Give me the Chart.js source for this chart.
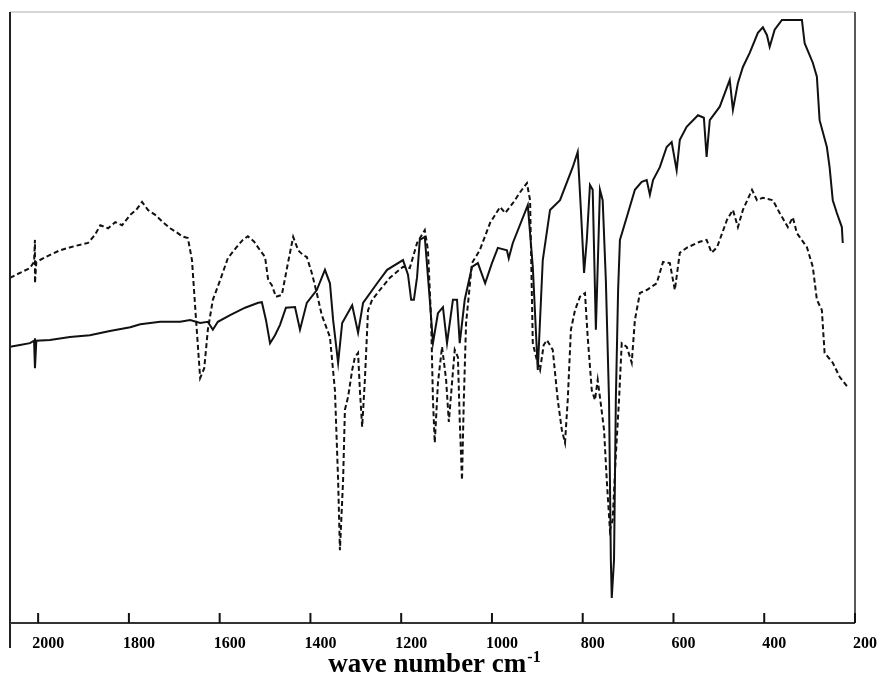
<!DOCTYPE html>
<html>
<head>
<meta charset="utf-8">
<script src="https://cdn.jsdelivr.net/npm/chart.js@4/dist/chart.umd.min.js"></script>
<style>
  html, body { margin: 0; padding: 0; background: #fff; }
  #wrap { width: 883px; height: 677px; }
</style>
</head>
<body>
<div id="wrap"><canvas id="irChart" width="883" height="677"></canvas></div>
<script>
// wave numbers (cm-1) along the bottom
const tickLabels = [2000, 1800, 1600, 1400, 1200, 1000, 800, 600, 400, 200];

// dashed trace
const dashedWave = [2062, 2040, 2018, 2009, 2007, 2007, 2004, 1978, 1952, 1919, 1890, 1875, 1863, 1846, 1830, 1815,
  1797, 1784, 1771, 1758, 1742, 1725, 1709, 1696, 1683, 1670, 1661, 1652, 1643, 1634, 1626, 1615, 1599, 1582,
  1564, 1549, 1538, 1524, 1511, 1500, 1493, 1485, 1476, 1463, 1449, 1438, 1427, 1416, 1408, 1397, 1386, 1375,
  1357, 1346, 1339, 1335, 1328, 1324, 1317, 1308, 1302, 1295, 1291, 1286, 1280, 1273, 1264, 1247, 1225, 1196,
  1181, 1165, 1148, 1141, 1134, 1130, 1126, 1119, 1110, 1101, 1095, 1088, 1082, 1075, 1071, 1066, 1062, 1057,
  1044, 1027, 1004, 982, 971, 954, 938, 923, 916, 910, 901, 894, 886, 879, 866, 855, 846, 839, 833, 826, 817,
  806, 795, 789, 780, 773, 767, 760, 753, 747, 740, 734, 727, 720, 714, 703, 692, 685, 674, 659, 637, 623, 608,
  597, 586, 571, 542, 527, 516, 504, 482, 469, 458, 447, 427, 416, 403, 381, 366, 348, 337, 328, 306, 293, 284,
  273, 267, 249, 234, 216];
const dashedT = [56.5, 57.3, 58.1, 59.1, 62.7, 55.6, 59.1, 60.1, 61.0, 61.7, 62.2, 63.5, 65.1, 64.6, 65.6, 65.1,
  66.8, 67.6, 68.9, 67.6, 66.8, 65.6, 64.6, 64.0, 63.3, 63.0, 59.4, 49.6, 40.1, 41.7, 48.0, 52.9, 56.1, 59.7,
  61.4, 62.7, 63.3, 62.4, 61.0, 59.9, 56.1, 55.3, 53.4, 53.7, 59.1, 63.2, 61.0, 60.2, 59.9, 57.3, 54.0, 50.4,
  46.8, 38.1, 23.4, 11.9, 23.4, 34.9, 37.0, 41.4, 43.5, 44.2, 38.1, 32.1, 39.8, 51.2, 52.9, 54.5, 56.5, 58.3,
  58.1, 62.2, 64.3, 61.0, 49.6, 36.5, 29.5, 39.3, 45.2, 39.8, 32.9, 39.3, 44.7, 43.5, 33.2, 23.4, 36.5, 49.1,
  58.9, 61.0, 65.5, 68.1, 67.1, 68.7, 70.5, 72.0, 69.2, 45.8, 43.0, 41.4, 45.5, 46.3, 44.7, 36.5, 31.6, 29.5,
  36.5, 48.0, 51.2, 53.4, 54.0, 46.8, 38.1, 36.5, 39.8, 35.8, 31.6, 23.4, 15.2, 16.9, 27.5, 36.5, 45.8, 45.2,
  42.6, 49.6, 54.0, 54.5, 55.6, 59.1, 58.9, 54.5, 60.6, 61.4, 62.4, 62.7, 60.6, 61.5, 66.0, 67.6, 64.8, 67.6,
  70.9, 69.2, 69.6, 69.2, 67.1, 64.8, 66.4, 63.8, 61.5, 58.3, 52.9, 51.2, 44.2, 42.6, 40.3, 38.6];

// solid trace
const solidWave = [2062, 2040, 2018, 2009, 2007, 2007, 2004, 1974, 1930, 1886, 1842, 1797, 1775, 1731, 1687,
  1665, 1643, 1626, 1615, 1604, 1577, 1544, 1515, 1507, 1498, 1489, 1478, 1467, 1454, 1434, 1423, 1408, 1386,
  1368, 1357, 1350, 1339, 1330, 1308, 1295, 1284, 1253, 1231, 1196, 1185, 1178, 1172, 1165, 1159, 1148, 1137,
  1130, 1119, 1108, 1099, 1086, 1077, 1071, 1060, 1044, 1031, 1015, 1000, 987, 967, 963, 954, 921, 910, 899,
  888, 872, 850, 822, 811, 804, 797, 791, 784, 778, 771, 762, 756, 749, 742, 738, 736, 731, 727, 722, 718, 703,
  685, 670, 659, 652, 645, 630, 615, 604, 593, 586, 571, 546, 533, 527, 520, 498, 476, 469, 458, 447, 432, 414,
  403, 394, 388, 377, 361, 337, 317, 311, 293, 284, 278, 262, 256, 249, 240, 229, 227];
const solidT = [45.2, 45.5, 45.8, 46.2, 46.6, 41.7, 46.2, 46.3, 46.8, 47.1, 47.8, 48.4, 48.9, 49.3, 49.3,
  49.6, 49.1, 49.3, 48.0, 49.3, 50.4, 51.6, 52.4, 52.5, 49.6, 45.8, 47.1, 48.8, 51.6, 51.7, 48.0, 52.4, 54.5,
  57.8, 55.6, 49.6, 42.6, 49.1, 52.0, 47.5, 52.4, 55.6, 57.8, 59.4, 57.0, 52.9, 52.9, 56.6, 62.7, 63.2, 52.9,
  45.8, 50.7, 51.7, 45.8, 52.9, 52.9, 45.8, 52.9, 58.3, 58.9, 55.6, 58.9, 61.4, 61.0, 59.7, 62.2, 68.4, 58.3, 41.4,
  59.4, 67.6, 69.2, 74.6, 77.1, 67.6, 57.3, 62.7, 71.7, 70.9, 48.0, 70.9, 69.2, 56.1, 36.5, 10.3, 4.1, 10.3, 36.5, 54.5, 62.7, 66.4,
  70.9, 72.2, 72.5, 70.1, 72.5, 74.6, 77.9, 78.7, 74.1, 79.1, 81.2, 83.1, 82.7, 76.3, 82.3, 84.5, 88.9, 84.0,
  88.4, 91.0, 93.3, 96.6, 97.5, 96.2, 94.3, 97.1, 98.7, 98.7, 98.7, 94.9, 91.7, 89.4, 82.3, 77.9, 74.6, 69.2,
  67.1, 64.8, 62.2];

const toPoints = (xs, ys) => xs.map((x, i) => ({ x: x, y: ys[i] }));

// frame, inward ticks and the axis title
const framePlugin = {
  id: "frame",
  afterDraw(chart) {
    const ctx = chart.ctx;
    const { left, right, top, bottom } = chart.chartArea;
    const xs = chart.scales.x;
    ctx.save();
    ctx.lineCap = "butt";

    ctx.strokeStyle = "#c8c8c8";
    ctx.lineWidth = 1.5;
    ctx.beginPath(); ctx.moveTo(left, top); ctx.lineTo(right, top); ctx.stroke();

    ctx.strokeStyle = "#222";
    ctx.lineWidth = 2;
    ctx.beginPath(); ctx.moveTo(left, top); ctx.lineTo(left, bottom + 25); ctx.stroke();
    ctx.lineWidth = 1.5;
    ctx.beginPath(); ctx.moveTo(right, top); ctx.lineTo(right, bottom); ctx.stroke();
    ctx.strokeStyle = "#333";
    ctx.lineWidth = 2;
    ctx.beginPath(); ctx.moveTo(left, bottom); ctx.lineTo(right, bottom); ctx.stroke();

    ctx.strokeStyle = "#111";
    ctx.lineWidth = 2;
    tickLabels.forEach(v => {
      const px = xs.getPixelForValue(v);
      ctx.beginPath(); ctx.moveTo(px, bottom); ctx.lineTo(px, bottom - 10); ctx.stroke();
    });

    // title with superscript
    const main = "wave number cm";
    ctx.fillStyle = "#000";
    ctx.textBaseline = "alphabetic";
    ctx.font = "bold 27px 'Liberation Serif', serif";
    const w1 = ctx.measureText(main).width;
    ctx.font = "bold 16px 'Liberation Serif', serif";
    const w2 = ctx.measureText("-1").width;
    const x0 = 434 - (w1 + w2) / 2;
    ctx.font = "bold 27px 'Liberation Serif', serif";
    ctx.fillText(main, x0, 672);
    ctx.font = "bold 16px 'Liberation Serif', serif";
    ctx.fillText("-1", x0 + w1 + 1, 662);
    ctx.restore();
  }
};

new Chart(document.getElementById("irChart"), {
  type: "scatter",
  data: {
    datasets: [
      {
        label: "dashed",
        data: toPoints(dashedWave, dashedT),
        showLine: true,
        borderColor: "#111",
        borderWidth: 2,
        borderDash: [5, 3],
        pointRadius: 0,
        tension: 0
      },
      {
        label: "solid",
        data: toPoints(solidWave, solidT),
        showLine: true,
        borderColor: "#111",
        borderWidth: 2,
        pointRadius: 0,
        tension: 0
      }
    ]
  },
  options: {
    responsive: false,
    animation: false,
    layout: { padding: { left: 10, right: 28, top: 12, bottom: 0 } },
    plugins: {
      legend: { display: false },
      tooltip: { enabled: false }
    },
    scales: {
      x: {
        type: "linear",
        reverse: true,
        min: 200,
        max: 2062,
        afterBuildTicks: s => { s.ticks = tickLabels.map(v => ({ value: v })); },
        afterFit: s => { s.height = 54; },
        grid: { display: false, drawTicks: false },
        border: { display: false },
        ticks: {
          padding: 11,
          labelOffset: 10,
          maxRotation: 0,
          autoSkip: false,
          color: "#000",
          callback: v => String(v),
          font: { family: "'Liberation Serif', serif", size: 16, weight: "bold" }
        }
      },
      y: {
        display: false,
        min: 0,
        max: 100
      }
    }
  },
  plugins: [framePlugin]
});
</script>
</body>
</html>
